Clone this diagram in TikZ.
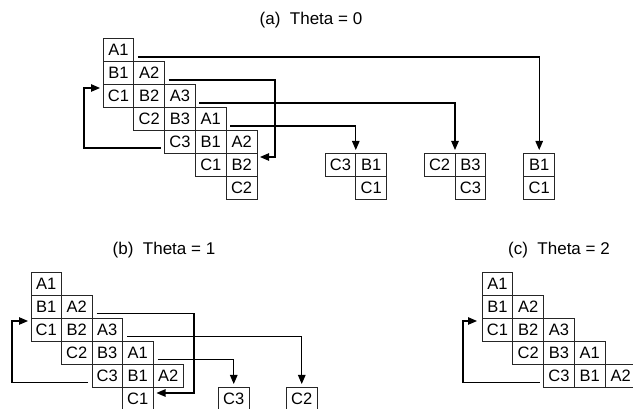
\documentclass[tikz,border=0pt]{standalone}
\usepackage{fontspec}
\setmainfont{Liberation Sans}
\usetikzlibrary{arrows.meta,calc}
\tikzset{
  cellbox/.style={draw=black!85, line width=0.9pt, minimum width=#1, minimum height=23pt,
    inner sep=0pt, outer sep=0pt, anchor=north west, font=\fontsize{16.5}{16.5}\selectfont},
  cellbox/.default=30.8pt,
  conn/.style={draw=black, line width=1.1pt},
  arr/.style={conn, -{Triangle[length=9pt,width=7.5pt]}},
  ttl/.style={anchor=base, font=\fontsize{17}{17}\selectfont}
}
\begin{document}
\begin{tikzpicture}[x=1pt,y=-1pt]
\useasboundingbox (0,0) rectangle (633,409);
\clip (0,0) rectangle (633,409);

% ---------------- (a) ----------------
\node[ttl] (ta) at (311,25) {(a)~~Theta = 0};
\node[cellbox] (aA1)  at (103,38) {A1};
\node[cellbox] (aB1)  at (103,61) {B1};
\node[cellbox] (aA2)  at (133.8,61) {A2};
\node[cellbox] (aC1)  at (103,84) {C1};
\node[cellbox] (aB2)  at (133.8,84) {B2};
\node[cellbox] (aA3)  at (164.6,84) {A3};
\node[cellbox] (aC2)  at (133.8,107) {C2};
\node[cellbox] (aB3)  at (164.6,107) {B3};
\node[cellbox] (aA1b) at (195.4,107) {A1};
\node[cellbox] (aC3)  at (164.6,130) {C3};
\node[cellbox] (aB1b) at (195.4,130) {B1};
\node[cellbox] (aA2b) at (226.2,130) {A2};
\node[cellbox] (aC1b) at (195.4,153) {C1};
\node[cellbox] (aB2b) at (226.2,153) {B2};
\node[cellbox] (aC2b) at (226.2,176) {C2};

\node[cellbox] (r1C3) at (325,153) {C3};
\node[cellbox] (r1B1) at (355.8,153) {B1};
\node[cellbox] (r1C1) at (355.8,176) {C1};
\node[cellbox] (r2C2) at (424.2,153) {C2};
\node[cellbox] (r2B3) at (455,153) {B3};
\node[cellbox] (r2C3) at (455,176) {C3};
\node[cellbox] (r3B1) at (523.8,153) {B1};
\node[cellbox] (r3C1) at (523.8,176) {C1};

\draw[arr] ($(aA1.south east)+(4,-4)$) -| ($(r3B1.north)+(0,-3)$);
\draw[arr] ($(aA2.south east)+(4,-4)$) -| ($(aB2b.north east)+(18,4)$) -- ($(aB2b.north east)+(3,4)$);
\draw[arr] ($(aA3.south east)+(4,-4)$) -| ($(r2B3.north west)+(0,-3)$);
\draw[arr] ($(aA1b.south east)+(4,-4)$) -| ($(r1B1.north west)+(0,-3)$);
\draw[arr] ($(aC3.south west)+(-4,-5)$) -| ($(aC1.north west)+(-19,4)$) -- ($(aC1.north west)+(-3,4)$);

% ---------------- (b) ----------------
\node[ttl] (tb) at (164,255) {(b)~~Theta = 1};
\node[cellbox=30.5pt] (bA1)  at (31,272) {A1};
\node[cellbox=30.5pt] (bB1)  at (31,295) {B1};
\node[cellbox=30.5pt] (bA2)  at (61.5,295) {A2};
\node[cellbox=30.5pt] (bC1)  at (31,318) {C1};
\node[cellbox=30.5pt] (bB2)  at (61.5,318) {B2};
\node[cellbox=30.5pt] (bA3)  at (92,318) {A3};
\node[cellbox=30.5pt] (bC2)  at (61.5,341) {C2};
\node[cellbox=30.5pt] (bB3)  at (92,341) {B3};
\node[cellbox=30.5pt] (bA1b) at (122.5,341) {A1};
\node[cellbox=30.5pt] (bC3)  at (92,364) {C3};
\node[cellbox=30.5pt] (bB1b) at (122.5,364) {B1};
\node[cellbox=30.5pt] (bA2b) at (153,364) {A2};
\node[cellbox=30.5pt] (bC1b) at (122.5,387) {C1};
\node[cellbox=30.5pt] (bR1)  at (218.5,387) {C3};
\node[cellbox=30.5pt] (bR2)  at (286.5,387) {C2};

\draw[arr] ($(bA2.south east)+(4.5,-4.5)$) -| ($(bC1b.north east)+(41,6)$) -- ($(bC1b.north east)+(3.5,6)$);
\draw[arr] ($(bA3.south east)+(4.5,-4.5)$) -| ($(bR2.north)+(0,-3)$);
\draw[arr] ($(bA1b.south east)+(4.5,-4.5)$) -| ($(bR1.north)+(0,-3)$);
\draw[arr] ($(bC3.south west)+(-4,-4.5)$) -| ($(bC1.north west)+(-19,3)$) -- ($(bC1.north west)+(-3,3)$);

% ---------------- (c) ----------------
\node[ttl] (tc) at (559,255) {(c)~~Theta = 2};
\node[cellbox] (cA1)  at (482,272) {A1};
\node[cellbox] (cB1)  at (482,295) {B1};
\node[cellbox] (cA2)  at (512.8,295) {A2};
\node[cellbox] (cC1)  at (482,318) {C1};
\node[cellbox] (cB2)  at (512.8,318) {B2};
\node[cellbox] (cA3)  at (543.6,318) {A3};
\node[cellbox] (cC2)  at (512.8,341) {C2};
\node[cellbox] (cB3)  at (543.6,341) {B3};
\node[cellbox] (cA1b) at (574.4,341) {A1};
\node[cellbox] (cC3)  at (543.6,364) {C3};
\node[cellbox] (cB1b) at (574.4,364) {B1};
\node[cellbox] (cA2b) at (605.2,364) {A2};

\draw[arr] ($(cC3.south west)+(-4,-4.5)$) -| ($(cC1.north west)+(-19,3)$) -- ($(cC1.north west)+(-5,3)$);
\end{tikzpicture}
\end{document}
